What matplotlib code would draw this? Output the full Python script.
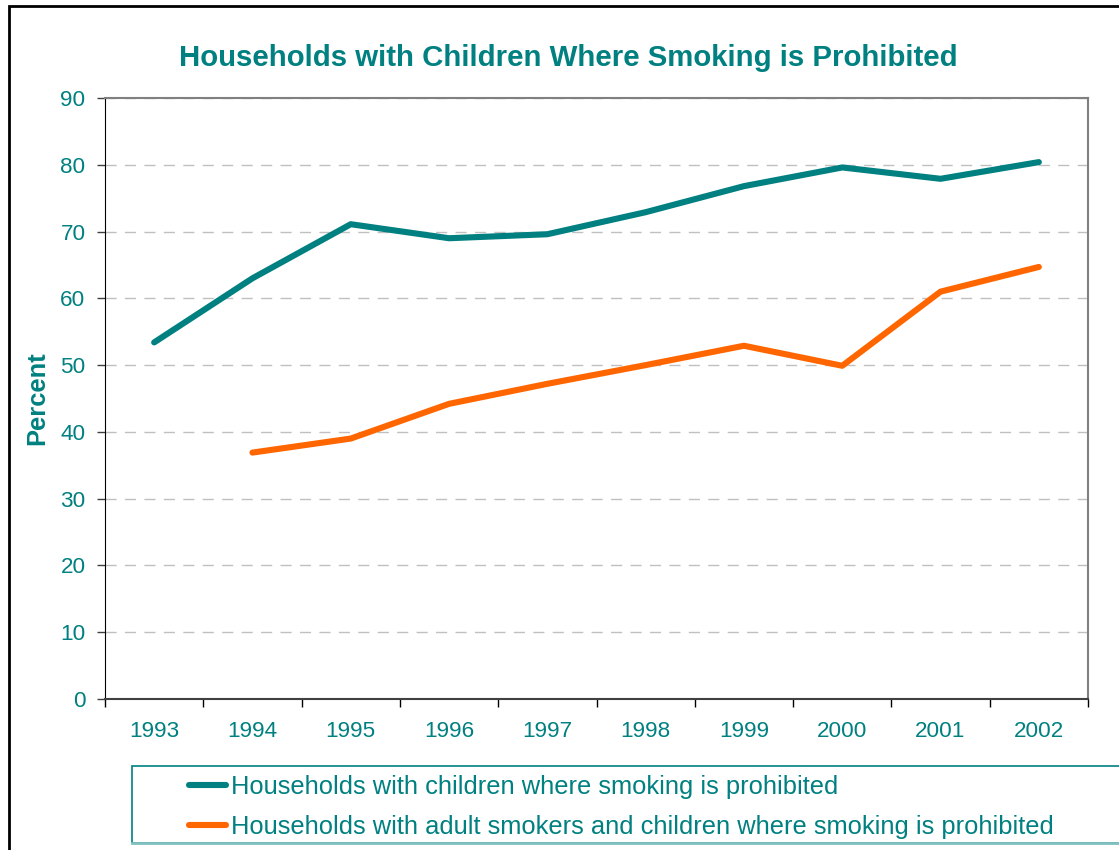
import matplotlib.pyplot as plt
from matplotlib.patches import Rectangle
from matplotlib.lines import Line2D

plt.rcParams['font.family'] = ['Liberation Sans', 'DejaVu Sans']

years = ['1993', '1994', '1995', '1996', '1997', '1998', '1999', '2000', '2001', '2002']
all_households = [53.4, 63.0, 71.1, 69.0, 69.6, 72.9, 76.8, 79.6, 77.9, 80.4]
smoker_years = years[1:]
smoker_households = [36.9, 39.0, 44.2, 47.2, 50.0, 52.9, 49.9, 61.0, 64.7]

label_all = 'Households with children where smoking is prohibited'
label_smokers = 'Households with adult smokers and children where smoking is prohibited'

TEAL = '#008080'
ORANGE = '#FF6600'
W, H = 1119, 850

fig = plt.figure(figsize=(W / 100, H / 100), dpi=100)
ax = fig.add_axes([105 / W, 1 - 699 / H, (1088 - 105) / W, (699 - 98) / H])

xs_all = [years.index(y) for y in years]
xs_smk = [years.index(y) for y in smoker_years]
l1, = ax.plot(xs_all, all_households, color=TEAL, lw=4.4, solid_capstyle='round',
              solid_joinstyle='round', label=label_all)
l2, = ax.plot(xs_smk, smoker_households, color=ORANGE, lw=4.4, solid_capstyle='round',
              solid_joinstyle='round', label=label_smokers)

ax.set_xlim(-0.5, len(years) - 0.5)
ax.set_ylim(0, 90)
ax.set_yticks(range(0, 91, 10))
ax.yaxis.grid(True, color='#C0C0C0', lw=1, dashes=(8, 6))
ax.set_axisbelow(True)

# category labels sit between boundary ticks
ax.set_xticks([i - 0.5 for i in range(len(years) + 1)])
ax.set_xticklabels([])
ax.set_xticks(range(len(years)), minor=True)
ax.set_xticklabels(years, minor=True)
ax.tick_params(axis='x', which='major', length=6, width=1, color='black', direction='out')
ax.tick_params(axis='x', which='minor', length=0, pad=16, labelsize=16.2, labelcolor=TEAL)
ax.tick_params(axis='y', length=6, width=1, color='#404040', direction='out',
               pad=8, labelsize=16.2, labelcolor=TEAL)

for side in ('top', 'right'):
    ax.spines[side].set_color('#808080')
    ax.spines[side].set_linewidth(1.5)
ax.spines['left'].set_color('black')
ax.spines['bottom'].set_color('#404040')
ax.spines['bottom'].set_linewidth(1.5)

ax.set_ylabel('Percent', fontsize=18.4, fontweight='bold', color=TEAL, labelpad=8)
fig.text(568 / W, 1 - 58 / H, 'Households with Children Where Smoking is Prohibited',
         ha='center', va='center', fontsize=21.2, fontweight='bold', color=TEAL)

# outer chart frame
fig.patches.append(Rectangle((9 / W, -0.1), 1.2, 1 - 6 / H + 0.1, transform=fig.transFigure,
                             fill=False, edgecolor='black', lw=2))

# legend box
fig.patches.append(Rectangle((132 / W, 1 - 843 / H), 1.2, (843 - 766) / H,
                             transform=fig.transFigure, fill=False, edgecolor=TEAL, lw=1.2))
fig.lines.append(Line2D([132 / W, 1.0], [1 - 843 / H, 1 - 843 / H], transform=fig.transFigure,
                        color='#80C0C0', lw=2))
fig.legend(handles=[l1, l2], loc='upper left', bbox_to_anchor=(189 / W, 1 - 775 / H),
           frameon=False, fontsize=18.4, handlelength=1.45, handletextpad=0.2,
           labelspacing=0.62, borderpad=0, borderaxespad=0, labelcolor=TEAL)

fig.savefig('out.png', dpi=100)
